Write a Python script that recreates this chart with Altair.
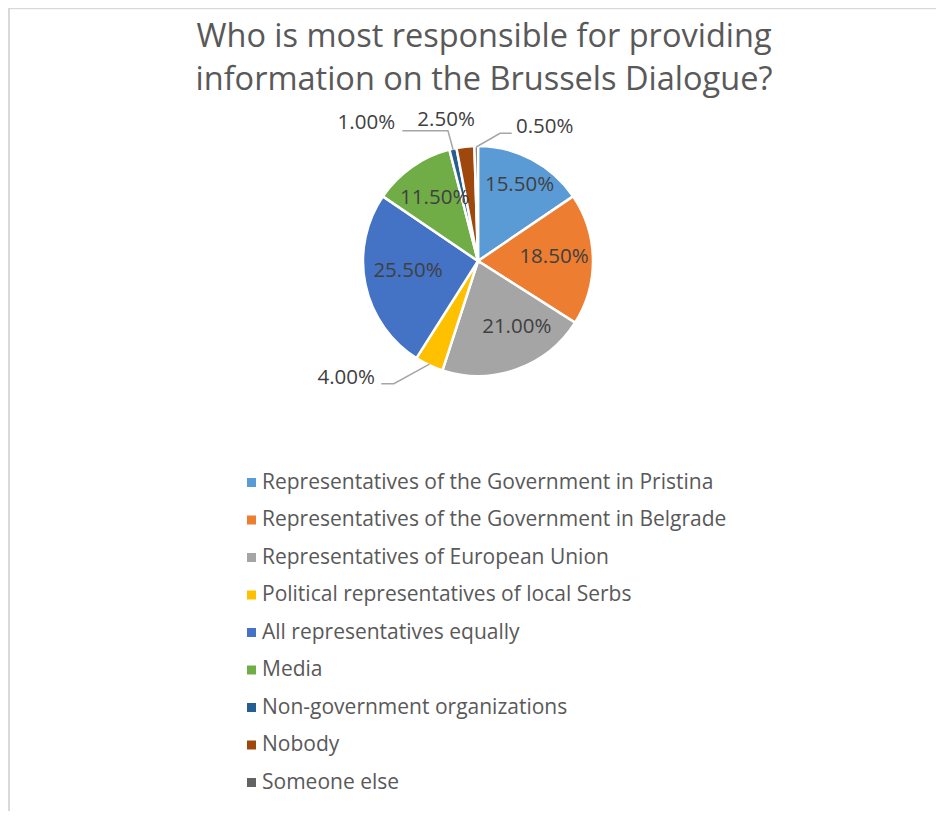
import math
import altair as alt
import pandas as pd

# ---------------- data ----------------
CATEGORIES = [
    "Representatives of the Government in Pristina",
    "Representatives of the Government in Belgrade",
    "Representatives of European Union",
    "Political representatives of local Serbs",
    "All representatives equally",
    "Media",
    "Non-government organizations",
    "Nobody",
    "Someone else",
]
VALUES = [15.5, 18.5, 21.0, 4.0, 25.5, 11.5, 1.0, 2.5, 0.5]
COLORS = ["#5B9BD5", "#ED7D31", "#A5A5A5", "#FFC000", "#4472C4",
          "#70AD47", "#255E91", "#9E480E", "#636363"]
TITLE_LINES = ["Who is most responsible for providing",
               "information on the Brussels Dialogue?"]

# ---------------- layout / style ----------------
W, H = 928, 803
CX, CY, R = 470, 253, 115
FONT = "Open Sans"
TXT = "#404040"
GRAY = "#595959"
# label placement per slice: radius, (dx, dy) nudge; leader end offset + elbow length
LABEL_STYLE = {
    "Representatives of the Government in Pristina": dict(r=77, dx=5.5, dy=-7.5),
    "Representatives of the Government in Belgrade": dict(r=77, dx=-1, dy=-3),
    "Representatives of European Union": dict(r=77, dx=12.7, dy=-6.3),
    "Political representatives of local Serbs": dict(r=145, dx=-70, dy=-14, ex=35, ey=5.5, el=12.6),
    "All representatives equally": dict(r=77, dx=5.4, dy=-5.6),
    "Media": dict(r=77, dx=1, dy=0),
    "Non-government organizations": dict(r=145, dx=-80, dy=3.5, ex=36, ey=7.7, el=45.6),
    "Nobody": dict(r=145, dx=-16, dy=3),
    "Someone else": dict(r=145, dx=69, dy=11, ex=-33, ey=6.3, el=-11.7),
}

df = pd.DataFrame({"category": CATEGORIES, "value": VALUES})
df["idx"] = range(len(df))
df["mid"] = df["value"].cumsum() - df["value"] / 2
df["label"] = df["value"].map(lambda v: f"{v:.2f}%")

TOTAL = float(df["value"].sum())
theta_scale = alt.Scale(domain=[0, TOTAL], range=[0, 2 * math.pi])

# leader lines computed from the slice mid-angles
rows = []
for _, r in df.iterrows():
    st = LABEL_STYLE[r["category"]]
    if "ex" not in st:
        continue
    a = r["mid"] / TOTAL * 2 * math.pi
    sx, sy = CX + 114 * math.sin(a), CY - 114 * math.cos(a)
    lx = CX + st["r"] * math.sin(a) + st["dx"]
    ly = CY - st["r"] * math.cos(a) + st["dy"]
    ex, ey = lx + st["ex"], ly + st["ey"]
    bx, by = ex + st["el"], ey
    for i, (px, py) in enumerate([(sx, sy), (bx, by), (ex, ey)]):
        rows.append({"category": r["category"], "pt": i, "px": px, "py": py})
leaders = pd.DataFrame(rows)

base = alt.Chart(df)

pie = base.mark_arc(outerRadius=R, stroke="white", strokeWidth=2.5).encode(
    theta=alt.Theta("value:Q", stack=True, scale=theta_scale),
    color=alt.Color(
        "category:N",
        scale=alt.Scale(domain=CATEGORIES, range=COLORS),
        sort=CATEGORIES,
        legend=alt.Legend(
            title=None, orient="none", legendX=233, legendY=464,
            direction="vertical", symbolType="square", symbolSize=81,
            symbolStrokeWidth=0, labelFont=FONT, labelFontSize=21,
            labelColor=GRAY, labelLimit=700, rowPadding=15.5,
            labelOffset=0, padding=0,
        ),
    ),
    order=alt.Order("idx:Q"),
    x=alt.value(CX),
    y=alt.value(CY),
)

layers = [pie]
for cat, st in LABEL_STYLE.items():
    layers.append(
        base.transform_filter(alt.datum.category == cat).mark_text(
            radius=st["r"], dx=st["dx"], dy=st["dy"], font=FONT, fontSize=20.5,
            color=TXT, align="center", baseline="middle"
        ).encode(
            theta=alt.Theta("mid:Q", stack=False, scale=theta_scale),
            text="label:N",
            x=alt.value(CX),
            y=alt.value(CY),
        )
    )

lead = alt.Chart(leaders).mark_line(color="#A6A6A6", strokeWidth=1.5).encode(
    x=alt.X("px:Q", scale=None, axis=None),
    y=alt.Y("py:Q", scale=None, axis=None),
    detail="category:N",
    order="pt:Q",
)
layers.append(lead)

one = alt.Chart(pd.DataFrame({"t": ["\n".join(TITLE_LINES)]}))
title = one.mark_text(
    font=FONT, fontSize=32.5, color=GRAY, align="center", baseline="alphabetic",
    lineBreak="\n", lineHeight=43
).encode(text="t:N", x=alt.value(476), y=alt.value(39))
layers.append(title)

border_left = one.mark_rule(color="#D9D9D9", strokeWidth=2).encode(
    x=alt.value(1), y=alt.value(0), y2=alt.value(H)
)
border_top = one.mark_rule(color="#D9D9D9", strokeWidth=1.5).encode(
    x=alt.value(0), x2=alt.value(W), y=alt.value(0.5)
)
layers += [border_left, border_top]

chart = alt.layer(*layers).properties(
    width=W, height=H, autosize=alt.AutoSizeParams(type="none"), padding=0
).configure_view(stroke=None).configure(background="white")

chart.save("out.html", embed_options={"renderer": "svg", "actions": False})
